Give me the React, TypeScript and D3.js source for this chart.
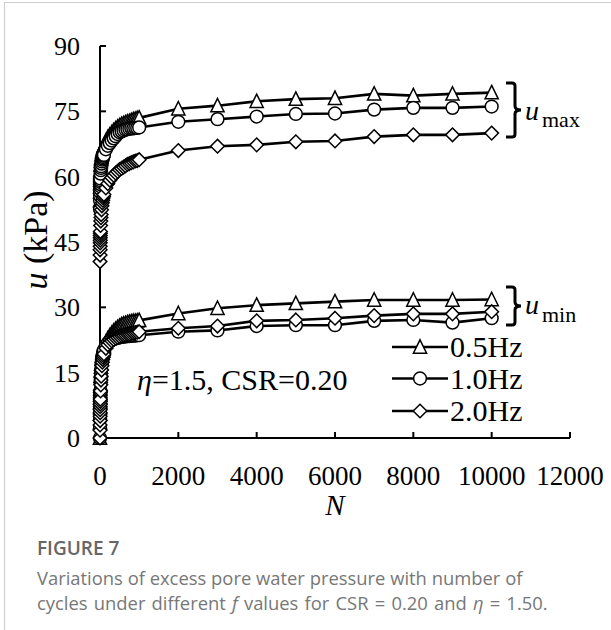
import React from "react";
import * as d3 from "d3";

const W = 611;
const H = 630;

// Number of loading cycles at which pore pressure was recorded
const N_CYCLES = [
  1, 2, 3, 4, 5, 6, 7, 8, 9, 10, 15, 20, 25, 30, 40, 50, 60, 70, 80, 90, 100,
  150, 200, 250, 300, 350, 400, 450, 500, 550, 600, 650, 700, 750, 800, 850, 900, 950, 1000,
  2000, 3000, 4000, 5000, 6000, 7000, 8000, 9000, 10000,
];

// Peak excess pore pressure u_max (kPa)
const U_MAX_05 = [
  54.5, 56.5, 57.6, 58.5, 59.2, 59.8, 60.3, 60.8, 61.2, 61.6, 62.7, 63.5, 64.0, 64.4, 65.1, 65.6, 66.0, 66.4, 66.7, 67.0, 67.2,
  68.2, 69.0, 69.6, 70.1, 70.6, 71.0, 71.4, 71.7, 72.0, 72.2, 72.4, 72.6, 72.7, 72.9, 73.1, 73.2, 73.4, 73.5,
  75.6, 76.3, 77.3, 77.8, 78.0, 79.0, 78.6, 79.0, 79.3,
];
const U_MAX_10 = [
  52.5, 54.5, 55.6, 56.5, 57.2, 57.8, 58.3, 58.8, 59.2, 59.6, 60.7, 61.5, 62.0, 62.4, 63.0, 63.5, 63.9, 64.2, 64.5, 64.8, 65.0,
  66.3, 67.1, 67.7, 68.3, 68.8, 69.3, 69.8, 70.2, 70.4, 70.6, 70.8, 70.9, 71.0, 71.1, 71.1, 71.2, 71.2, 71.3,
  72.6, 73.2, 73.8, 74.4, 74.5, 75.4, 75.8, 75.8, 76.1,
];
const U_MAX_20 = [
  40.5, 42.0, 43.2, 44.0, 44.8, 45.4, 46.0, 46.5, 47.0, 47.4, 48.8, 49.8, 50.6, 51.3, 52.4, 53.3, 54.0, 54.6, 55.1, 55.5, 55.9,
  57.4, 58.4, 59.2, 59.8, 60.3, 60.8, 61.2, 61.6, 61.9, 62.2, 62.5, 62.8, 63.0, 63.2, 63.4, 63.6, 63.7, 63.9,
  66.0, 67.0, 67.3, 68.0, 68.2, 69.2, 69.6, 69.6, 70.0,
];

// Residual excess pore pressure u_min (kPa); every test starts from u = 0 at N = 0
const U_START = 0;
const U_MIN_05 = [
  3.5, 5.5, 7.0, 8.2, 9.2, 10.0, 10.7, 11.3, 11.9, 12.4, 14.2, 15.4, 16.3, 17.0, 18.1, 18.9, 19.6, 20.1, 20.5, 20.9, 21.2,
  22.0, 22.8, 23.5, 24.1, 24.6, 25.0, 25.4, 25.7, 26.0, 26.2, 26.3, 26.5, 26.6, 26.7, 26.8, 26.8, 26.9, 27.0,
  28.6, 29.8, 30.5, 30.9, 31.3, 31.7, 31.7, 31.7, 31.8,
];
const U_MIN_10 = [
  2.5, 4.3, 5.7, 6.8, 7.7, 8.5, 9.2, 9.8, 10.3, 10.8, 12.6, 13.9, 14.9, 15.7, 16.9, 17.8, 18.5, 19.1, 19.5, 19.9, 20.2,
  21.2, 21.8, 22.2, 22.5, 22.7, 22.9, 23.0, 23.1, 23.2, 23.3, 23.3, 23.4, 23.4, 23.5, 23.5, 23.5, 23.6, 23.6,
  24.4, 24.7, 25.7, 25.9, 25.9, 26.9, 27.1, 26.5, 27.5,
];
const U_MIN_20 = [
  1.8, 3.0, 4.0, 5.0, 5.8, 6.5, 7.2, 7.8, 8.4, 8.9, 10.8, 12.2, 13.3, 14.2, 15.6, 16.6, 17.4, 18.0, 18.5, 18.9, 19.3,
  20.6, 21.4, 21.9, 22.3, 22.6, 22.9, 23.1, 23.3, 23.5, 23.6, 23.7, 23.8, 23.9, 24.0, 24.1, 24.2, 24.3, 24.4,
  25.2, 25.7, 26.9, 27.1, 27.5, 28.1, 28.5, 28.5, 29.0,
];

const FREQ_LABELS = ["0.5Hz", "1.0Hz", "2.0Hz"];
const SHAPES = ["triangle", "circle", "diamond"];
const X_TICKS = [0, 2000, 4000, 6000, 8000, 10000, 12000];
const Y_TICKS = [0, 15, 30, 45, 60, 75, 90];

const SERIES = [
  { label: FREQ_LABELS[0], shape: SHAPES[0], max: U_MAX_05, min: U_MIN_05 },
  { label: FREQ_LABELS[1], shape: SHAPES[1], max: U_MAX_10, min: U_MIN_10 },
  { label: FREQ_LABELS[2], shape: SHAPES[2], max: U_MAX_20, min: U_MIN_20 },
];

const SERIF = "'Liberation Serif', 'Times New Roman', serif";
const SANS = "'Open Sans', 'Noto Sans', sans-serif";

const x = d3.scaleLinear().domain([0, 12000]).range([100, 570]);
const y = d3.scaleLinear().domain([0, 90]).range([438, 46]);

type Pt = [number, number];
const line = d3
  .line<Pt>()
  .x((d) => x(d[0]))
  .y((d) => y(d[1]));

function markerPath(shape: string): string {
  if (shape === "triangle") return "M0,-7.2L6.6,6.2L-6.6,6.2Z";
  if (shape === "diamond") return "M0,-6.8L6.8,0L0,6.8L-6.8,0Z";
  const r = 6.4;
  return `M${r},0A${r},${r} 0 1,1 ${-r},0A${r},${r} 0 1,1 ${r},0Z`;
}

function Marker({ shape, cx, cy }: { shape: string; cx: number; cy: number }) {
  return (
    <path
      d={markerPath(shape)}
      transform={`translate(${cx},${cy})`}
      fill="#fff"
      stroke="#000"
      strokeWidth={1.5}
    />
  );
}

function Brace({ top, bottom, x0 }: { top: number; bottom: number; x0: number }) {
  const mid = (top + bottom) / 2;
  const xv = x0 + 9;
  const d = `M${x0},${top} H${xv - 3} Q${xv},${top} ${xv},${top + 3} V${mid - 4} Q${xv},${mid} ${xv + 6},${mid} Q${xv},${mid} ${xv},${mid + 4} V${bottom - 3} Q${xv},${bottom} ${xv - 3},${bottom} H${x0}`;
  return <path d={d} fill="none" stroke="#000" strokeWidth={3} />;
}

export default function App() {
  const legendRows = [347, 378.5, 411];
  return (
    <svg
      width={W}
      height={H}
      viewBox={`0 0 ${W} ${H}`}
      style={{ position: "absolute", left: 0, top: 0, background: "#fff" }}
    >
      <rect x={0} y={0} width={W} height={H} fill="#fff" />
      <path d={`M4.5,${H} V2.5 H${W}`} fill="none" stroke="#cfcfcf" strokeWidth={1.2} />

      {/* axes */}
      <line x1={x(0)} x2={x(0)} y1={y(90)} y2={y(0)} stroke="#000" strokeWidth={2} />
      <line x1={x(0)} x2={x(12000)} y1={y(0)} y2={y(0)} stroke="#000" strokeWidth={2} />
      {Y_TICKS.map((t) => (
        <g key={`yt${t}`}>
          {t > 0 && <line x1={x(0)} x2={x(0) + 6} y1={y(t)} y2={y(t)} stroke="#000" strokeWidth={2} />}
          <text x={80} y={y(t) + 9} textAnchor="end" fontFamily={SERIF} fontSize={26}>
            {t}
          </text>
        </g>
      ))}
      {X_TICKS.map((t) => (
        <g key={`xt${t}`}>
          {t > 0 && <line x1={x(t)} x2={x(t)} y1={y(0)} y2={y(0) - 6} stroke="#000" strokeWidth={2} />}
          <text x={x(t)} y={485} textAnchor="middle" fontFamily={SERIF} fontSize={27}>
            {t}
          </text>
        </g>
      ))}
      <text x={335} y={515} textAnchor="middle" fontFamily={SERIF} fontSize={29} fontStyle="italic">
        N
      </text>
      <text
        transform="translate(47,240) rotate(-90)"
        textAnchor="middle"
        fontFamily={SERIF}
        fontSize={34}
      >
        <tspan fontStyle="italic">u</tspan> (kPa)
      </text>

      {/* data */}
      {SERIES.map((s) => {
        const maxPts: Pt[] = N_CYCLES.map((n, i) => [n, s.max[i]]);
        const minPts: Pt[] = [[0, U_START] as Pt, ...N_CYCLES.map((n, i) => [n, s.min[i]] as Pt)];
        return (
          <g key={s.label}>
            <path d={line(maxPts) || ""} fill="none" stroke="#000" strokeWidth={2.6} />
            <path d={line(minPts) || ""} fill="none" stroke="#000" strokeWidth={2.6} />
            {maxPts.map((p, i) => (
              <Marker key={`a${i}`} shape={s.shape} cx={x(p[0])} cy={y(p[1])} />
            ))}
            {minPts.map((p, i) => (
              <Marker key={`b${i}`} shape={s.shape} cx={x(p[0])} cy={y(p[1])} />
            ))}
          </g>
        );
      })}

      {/* braces */}
      <Brace top={83} bottom={137} x0={506} />
      <text x={525} y={120} fontFamily={SERIF} fontSize={28} fontStyle="italic">u</text>
      <text x={542} y={127} fontFamily={SERIF} fontSize={22}>max</text>
      <Brace top={287} bottom={325} x0={506} />
      <text x={525} y={314} fontFamily={SERIF} fontSize={28} fontStyle="italic">u</text>
      <text x={542} y={322} fontFamily={SERIF} fontSize={22}>min</text>

      {/* annotation */}
      <text x={137} y={390} fontFamily={SERIF} fontSize={30}>
        <tspan fontStyle="italic">η</tspan>=1.5, CSR=0.20
      </text>

      {/* legend */}
      {SERIES.map((s, i) => (
        <g key={`lg${s.label}`}>
          <line x1={392} x2={448} y1={legendRows[i]} y2={legendRows[i]} stroke="#000" strokeWidth={2.6} />
          <Marker shape={s.shape} cx={420} cy={legendRows[i]} />
          <text x={450} y={legendRows[i] + 10} fontFamily={SERIF} fontSize={30}>
            {s.label}
          </text>
        </g>
      ))}

      {/* caption */}
      <text x={37} y={555} fontFamily={SANS} fontSize={19} fontWeight={600} fill="#666">
        FIGURE 7
      </text>
      <text x={37} y={585} fontFamily={SANS} fontSize={18.4} fill="#777">
        Variations of excess pore water pressure with number of
      </text>
      <text x={37} y={610} fontFamily={SANS} fontSize={18.4} fill="#777" wordSpacing={1.4}>
        cycles under different <tspan fontStyle="italic">f</tspan> values for CSR = 0.20 and{" "}
        <tspan fontStyle="italic">η</tspan> = 1.50.
      </text>
    </svg>
  );
}
